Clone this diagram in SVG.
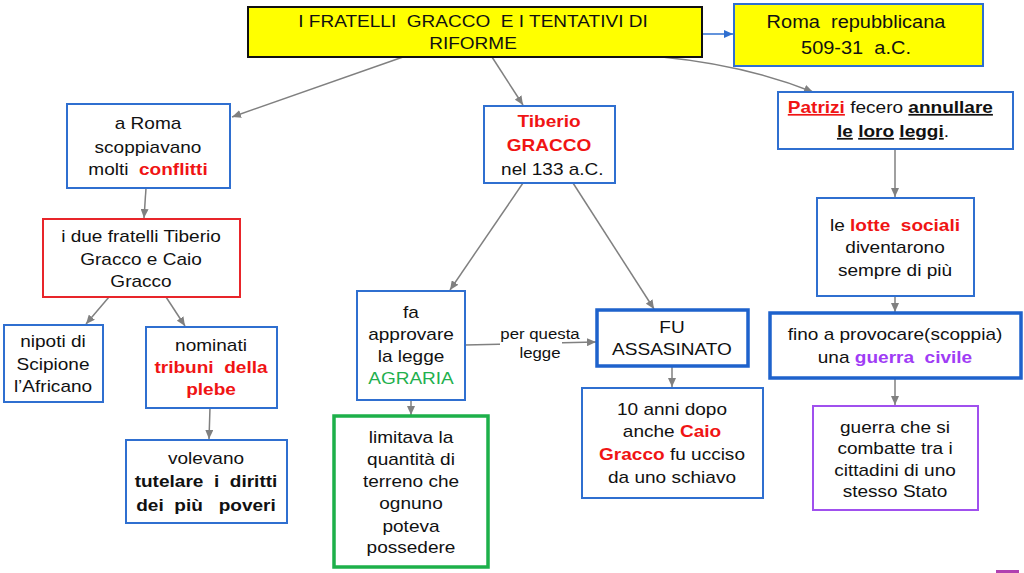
<svg xmlns="http://www.w3.org/2000/svg" width="1024" height="573" viewBox="0 0 1024 573">
<style>
text{font-family:"Liberation Sans",Arial,sans-serif;font-size:17px;fill:#111;text-anchor:middle;white-space:pre}
.box{fill:#fff;stroke:#2f6fd0;stroke-width:2}
.thick{fill:#fff;stroke:#1e62cc;stroke-width:3.5}
.red{fill:#fff;stroke:#e8252a;stroke-width:2}
.green{fill:#fff;stroke:#1db04a;stroke-width:3.5}
.purple{fill:#fff;stroke:#a050ee;stroke-width:2}
.yellow{fill:#ffff00;stroke:#111;stroke-width:2}
.yblue{fill:#ffff00;stroke:#2f6fd0;stroke-width:2}
.edge{fill:none;stroke:#808080;stroke-width:1.5}
.b{font-weight:bold}
.r{fill:#f01414;font-weight:bold}
.p{fill:#a03cf5;font-weight:bold}
.g{fill:#1fb04e}
.u{text-decoration:underline}
</style>
<defs>
<marker id="ah" viewBox="0 0 10 10" refX="10" refY="5" markerUnits="userSpaceOnUse" markerWidth="9" markerHeight="8" orient="auto" preserveAspectRatio="none"><path d="M0,0 L10,5 L0,10 z" fill="#808080"/></marker>
<marker id="ahb" viewBox="0 0 10 10" refX="10" refY="5" markerUnits="userSpaceOnUse" markerWidth="9" markerHeight="8" orient="auto" preserveAspectRatio="none"><path d="M0,0 L10,5 L0,10 z" fill="#2f6fd0"/></marker>
</defs>

<g id="connectors">
<path class="edge" d="M403,57 L232,117" marker-end="url(#ah)"/>
<path class="edge" d="M492,57 L523,105" marker-end="url(#ah)"/>
<path class="edge" d="M662,57 Q745,65 813,92" marker-end="url(#ah)"/>
<path d="M702,34 L733,34" fill="none" stroke="#2f6fd0" stroke-width="1.5" marker-end="url(#ahb)"/>
<path class="edge" d="M146,188 L144,218" marker-end="url(#ah)"/>
<path class="edge" d="M109,297 L86,324" marker-end="url(#ah)"/>
<path class="edge" d="M166,297 L185,326" marker-end="url(#ah)"/>
<path class="edge" d="M210,408 L209,439" marker-end="url(#ah)"/>
<path class="edge" d="M523,183 L450,290" marker-end="url(#ah)"/>
<path class="edge" d="M573,183 L654,309" marker-end="url(#ah)"/>
<path class="edge" d="M465,345 L596,342" marker-end="url(#ah)"/>
<path class="edge" d="M411,400 L411,415" marker-end="url(#ah)"/>
<path class="edge" d="M672,366 L672,387" marker-end="url(#ah)"/>
<path class="edge" d="M895,149 L895,197" marker-end="url(#ah)"/>
<path class="edge" d="M895,296 L895,312" marker-end="url(#ah)"/>
<path class="edge" d="M895,378 L895,405" marker-end="url(#ah)"/>
<rect x="500" y="323" width="62" height="40" fill="#fff"/>
<text style="font-size:15px" transform="translate(540 0) scale(1.12 1)"><tspan x="0" y="339">per questa</tspan><tspan x="0" y="358">legge</tspan></text>
</g>

<g id="title">
<rect class="yellow" x="248" y="7" width="454" height="50"/>
<text transform="translate(473 0) scale(1.12 1)"><tspan x="0" y="27">I FRATELLI  GRACCO  E I TENTATIVI DI</tspan><tspan x="0" y="49">RIFORME</tspan></text>
</g>

<g id="roma">
<rect class="yblue" x="734" y="4" width="249" height="62"/>
<text style="font-size:18.5px" transform="translate(856 0) scale(1.08 1)"><tspan x="0" y="28">Roma  repubblicana</tspan><tspan x="0" y="54">509-31  a.C.</tspan></text>
</g>

<g id="patrizi">
<rect class="box" x="778" y="92" width="235" height="57"/>
<text transform="translate(893 0) scale(1.12 1)"><tspan x="0" y="113"><tspan class="r u">Patrizi</tspan> fecero <tspan class="b u">annullare</tspan> </tspan><tspan x="0" y="137"><tspan class="b u">le</tspan> <tspan class="b u">loro</tspan> <tspan class="b u">leggi</tspan>.</tspan></text>
</g>

<g id="aroma">
<rect class="box" x="67" y="104" width="163" height="84"/>
<text transform="translate(148 0) scale(1.12 1)"><tspan x="0" y="129">a Roma</tspan><tspan x="0" y="153">scoppiavano</tspan><tspan x="0" y="175">molti  <tspan class="r">conflitti</tspan></tspan></text>
</g>

<g id="fratelli">
<rect class="red" x="43" y="219" width="197" height="78"/>
<text transform="translate(141 0) scale(1.12 1)"><tspan x="0" y="242">i due fratelli Tiberio</tspan><tspan x="0" y="265">Gracco e Caio</tspan><tspan x="0" y="287">Gracco</tspan></text>
</g>

<g id="nipoti">
<rect class="box" x="4" y="325" width="99" height="77"/>
<text transform="translate(53 0) scale(1.12 1)"><tspan x="0" y="347">nipoti di</tspan><tspan x="0" y="370">Scipione</tspan><tspan x="0" y="392">l’Africano</tspan></text>
</g>

<g id="nominati">
<rect class="box" x="146" y="327" width="131" height="81"/>
<text transform="translate(211 0) scale(1.12 1)"><tspan x="0" y="351">nominati</tspan><tspan x="0" y="373" class="r">tribuni  della</tspan><tspan x="0" y="395" class="r">plebe</tspan></text>
</g>

<g id="volevano">
<rect class="box" x="126" y="440" width="161" height="83"/>
<text transform="translate(206 0) scale(1.12 1)"><tspan x="0" y="464">volevano</tspan><tspan x="0" y="487" class="b">tutelare  i  diritti</tspan><tspan x="0" y="511" class="b">dei  più   poveri</tspan></text>
</g>

<g id="tiberio">
<rect class="box" x="484" y="106" width="131" height="77"/>
<text transform="translate(549 0) scale(1.12 1)"><tspan x="0" y="127" class="r">Tiberio</tspan><tspan x="0" y="151" class="r">GRACCO</tspan><tspan x="3" y="175">nel 133 a.C.</tspan></text>
</g>

<g id="agraria">
<rect class="box" x="357" y="291" width="108" height="109"/>
<text transform="translate(411 0) scale(1.12 1)"><tspan x="0" y="318">fa</tspan><tspan x="0" y="340">approvare</tspan><tspan x="0" y="362">la legge</tspan><tspan x="0" y="384" class="g">AGRARIA</tspan></text>
</g>

<g id="limitava">
<rect class="green" x="334" y="416" width="154" height="151"/>
<text transform="translate(411 0) scale(1.12 1)"><tspan x="0" y="443">limitava la</tspan><tspan x="0" y="465">quantità di</tspan><tspan x="0" y="487">terreno che</tspan><tspan x="0" y="509">ognuno</tspan><tspan x="0" y="532">poteva</tspan><tspan x="0" y="553">possedere</tspan></text>
</g>

<g id="assassinato">
<rect class="thick" x="597" y="310" width="151" height="56"/>
<text transform="translate(672 0) scale(1.12 1)"><tspan x="0" y="333">FU</tspan><tspan x="0" y="355">ASSASINATO</tspan></text>
</g>

<g id="caio">
<rect class="box" x="582" y="388" width="181" height="110"/>
<text transform="translate(672 0) scale(1.12 1)"><tspan x="0" y="415">10 anni dopo</tspan><tspan x="0" y="437">anche <tspan class="r">Caio</tspan></tspan><tspan x="0" y="460"><tspan class="r">Gracco</tspan> fu ucciso</tspan><tspan x="0" y="483">da uno schiavo</tspan></text>
</g>

<g id="lotte">
<rect class="box" x="817" y="198" width="157" height="98"/>
<text transform="translate(895 0) scale(1.12 1)"><tspan x="0" y="231">le <tspan class="r">lotte  sociali</tspan></tspan><tspan x="0" y="253">diventarono</tspan><tspan x="0" y="276">sempre di più</tspan></text>
</g>

<g id="guerracivile">
<rect class="thick" x="770" y="313" width="251" height="65"/>
<text transform="translate(895 0) scale(1.12 1)"><tspan x="0" y="340">fino a provocare(scoppia)</tspan><tspan x="0" y="363">una <tspan class="p">guerra  civile</tspan></tspan></text>
</g>

<g id="definizione">
<rect class="purple" x="813" y="406" width="165" height="104"/>
<text transform="translate(895 0) scale(1.12 1)"><tspan x="0" y="433">guerra che si</tspan><tspan x="0" y="454">combatte tra i</tspan><tspan x="0" y="476">cittadini di uno</tspan><tspan x="0" y="497">stesso Stato</tspan></text>
</g>

<rect x="996" y="570" width="23" height="3" fill="#b040b0"/>
</svg>
